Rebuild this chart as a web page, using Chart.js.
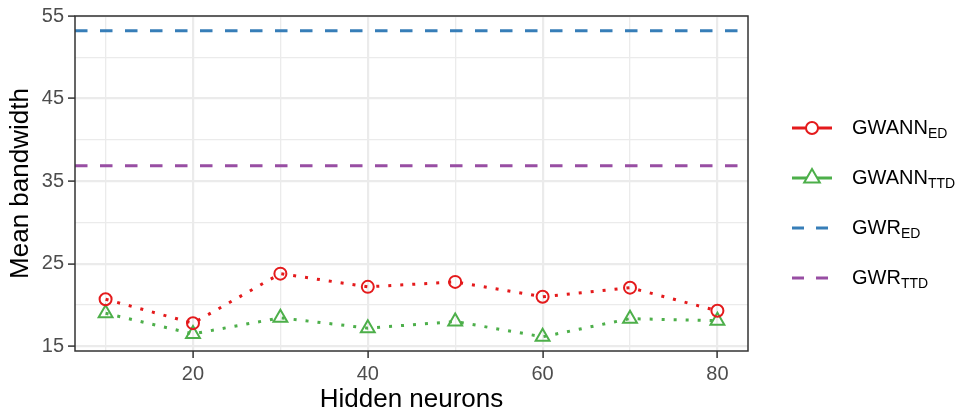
<!DOCTYPE html>
<html>
<head>
<meta charset="utf-8">
<script src="https://cdn.jsdelivr.net/npm/chart.js@4.4.1/dist/chart.umd.min.js"></script>
<style>
  body { margin: 0; background: #fff; font-family: "Liberation Sans", Arial, sans-serif; }
  #wrap { position: relative; width: 963px; height: 417px; }
  #legend { position: absolute; left: 792px; top: 0; }
  .item { position: absolute; left: 0; width: 170px; height: 30px; display: flex; align-items: center; }
  .item svg { flex: none; }
  .item span { margin-left: 20px; font-size: 20px; color: #000; white-space: nowrap; }
  .item sub { font-size: 14px; vertical-align: -4px; }
</style>
</head>
<body>
<div id="wrap">
  <canvas id="myChart" width="963" height="417"></canvas>
  <div id="legend"></div>
</div>
<script>
// dữ liệu
const neurons = [10, 20, 30, 40, 50, 60, 70, 80];
const gwannEd = [20.7, 17.8, 23.8, 22.2, 22.8, 21.0, 22.1, 19.3];
const gwannTtd = [19.0, 16.5, 18.45, 17.2, 18.0, 16.15, 18.35, 18.1];
const gwrEd = 53.2;
const gwrTtd = 36.85;

const xTicks = [10, 20, 30, 40, 50, 60, 70, 80];
const xMajor = [20, 40, 60, 80];
const yTicks = [15, 20, 25, 30, 35, 40, 45, 50, 55];
const yMajor = [15, 25, 35, 45, 55];
const xMin = 6.5, xMax = 83.5;
const yMin = 14.43, yMax = 55;

const red = '#E41A1C', green = '#4DAF4A', blue = '#377EB8', purple = '#984EA3';

const toXY = (xs, ys) => xs.map((x, i) => ({ x: x, y: ys[i] }));

// viền khung
const panelBorder = {
  id: 'panelBorder',
  afterDraw(chart) {
    const a = chart.chartArea, c = chart.ctx;
    c.save();
    c.strokeStyle = '#333333';
    c.lineWidth = 1.5;
    c.strokeRect(a.left, a.top, a.right - a.left, a.bottom - a.top);
    c.restore();
  }
};

function axisOpts(ticks, major, min, max, title, fit, tpad) {
  return {
    type: 'linear',
    min: min,
    max: max,
    afterBuildTicks(scale) { scale.ticks = ticks.map(v => ({ value: v })); },
    afterFit: fit,
    border: { display: false },
    grid: {
      color: '#EBEBEB',
      lineWidth: ctx => major.includes(ctx.tick && ctx.tick.value) ? 2.2 : 1.3,
      tickColor: ctx => major.includes(ctx.tick && ctx.tick.value) ? '#333333' : 'rgba(0,0,0,0)',
      tickLength: 7,
      tickWidth: 1.5
    },
    ticks: {
      autoSkip: false,
      maxRotation: 0,
      padding: 4,
      color: '#4D4D4D',
      font: { family: '"Liberation Sans", Arial, sans-serif', size: 20 },
      callback: v => major.includes(v) ? String(v) : ''
    },
    title: {
      display: true,
      text: title,
      color: '#000',
      font: { family: '"Liberation Sans", Arial, sans-serif', size: 26 },
      padding: tpad
    }
  };
}

const config = {
  type: 'line',
  data: {
    datasets: [
      {
        label: 'GWANN_ED',
        data: toXY(neurons, gwannEd),
        borderColor: red,
        borderWidth: 3,
        borderDash: [3, 9],
        pointStyle: 'circle',
        pointRadius: 6,
        pointBorderWidth: 2,
        pointBorderColor: red,
        pointBackgroundColor: 'rgba(0,0,0,0)'
      },
      {
        label: 'GWANN_TTD',
        data: toXY(neurons, gwannTtd),
        borderColor: green,
        borderWidth: 3,
        borderDash: [3, 9],
        pointStyle: 'triangle',
        pointRadius: 8,
        pointBorderWidth: 2,
        pointBorderColor: green,
        pointBackgroundColor: 'rgba(0,0,0,0)'
      },
      {
        label: 'GWR_ED',
        data: [{ x: xMin, y: gwrEd }, { x: xMax, y: gwrEd }],
        borderColor: blue,
        borderWidth: 3,
        borderDash: [12.5, 12.5],
        pointRadius: 0
      },
      {
        label: 'GWR_TTD',
        data: [{ x: xMin, y: gwrTtd }, { x: xMax, y: gwrTtd }],
        borderColor: purple,
        borderWidth: 3,
        borderDash: [12.5, 12.5],
        pointRadius: 0
      }
    ]
  },
  options: {
    responsive: false,
    animation: false,
    layout: { padding: { left: 0, right: 215, top: 16, bottom: 0 } },
    plugins: { legend: { display: false }, tooltip: { enabled: false } },
    scales: {
      x: axisOpts(xTicks, xMajor, xMin, xMax, 'Hidden neurons', s => { s.height = 66; }, { top: 6, bottom: 2 }),
      y: axisOpts(yTicks, yMajor, yMin, yMax, 'Mean bandwidth', s => { s.width = 75; }, { top: 5, bottom: 4 })
    }
  },
  plugins: [panelBorder]
};

new Chart(document.getElementById('myChart'), config);

// chú thích (HTML để có chỉ số dưới)
const legendItems = [
  { name: 'GWANN', sub: 'ED', color: red, marker: 'circle', dash: '' },
  { name: 'GWANN', sub: 'TTD', color: green, marker: 'triangle', dash: '' },
  { name: 'GWR', sub: 'ED', color: blue, marker: '', dash: '12 12' },
  { name: 'GWR', sub: 'TTD', color: purple, marker: '', dash: '12 12' }
];
const legendY = [128, 178, 228, 278];
const leg = document.getElementById('legend');
legendItems.forEach((it, i) => {
  let mk = '';
  if (it.marker === 'circle') mk = `<circle cx="20" cy="15" r="6" fill="#fff" stroke="${it.color}" stroke-width="2"/>`;
  if (it.marker === 'triangle') mk = `<polygon points="20,6 27.8,19.5 12.2,19.5" fill="#fff" stroke="${it.color}" stroke-width="2"/>`;
  const dash = it.dash ? `stroke-dasharray="${it.dash}"` : '';
  const div = document.createElement('div');
  div.className = 'item';
  div.style.top = (legendY[i] - 15) + 'px';
  div.innerHTML = `<svg width="40" height="30"><line x1="0" y1="15" x2="40" y2="15" stroke="${it.color}" stroke-width="3" ${dash}/>${mk}</svg>` +
    `<span>${it.name}<sub>${it.sub}</sub></span>`;
  leg.appendChild(div);
});
</script>
</body>
</html>
